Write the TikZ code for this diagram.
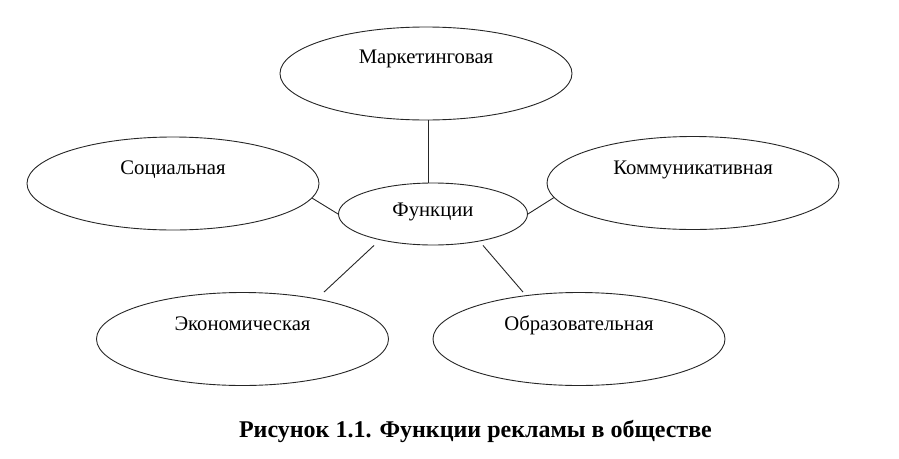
\documentclass[tikz,border=0pt]{standalone}
\usepackage{fontspec}
\setmainfont{Liberation Serif}
\usetikzlibrary{shapes.geometric,calc}
\begin{document}
\begin{tikzpicture}[x=1pt,y=-1pt,
  oval/.style={draw=black!85,line width=0.9pt,ellipse,inner sep=0pt,minimum width=292pt,minimum height=93pt},
  lbl/.style={font=\fontsize{20.7}{24}\selectfont,inner sep=0pt,anchor=base},
  link/.style={draw=black!85,line width=0.9pt}]
\useasboundingbox (0,0) rectangle (899,458);
\node[oval] (m) at (426,73.5) {};
\node[oval] (s) at (173,183.5) {};
\node[oval] (k) at (693,183) {};
\node[oval] (e) at (242.5,339) {};
\node[oval] (o) at (579,339) {};
\node[oval,minimum width=189pt,minimum height=62pt] (f) at (433,214) {};
\node[lbl] (mt) at ($(m.center)+(0,-10.2)$) {Маркетинговая};
\node[lbl] (st) at ($(s.center)+(0,-9.5)$) {Социальная};
\node[lbl] (kt) at ($(k.center)+(0,-9)$) {Коммуникативная};
\node[lbl] (et) at ($(e.center)+(0,-9)$) {Экономическая};
\node[lbl] (ot) at ($(o.center)+(0,-9)$) {Образовательная};
\node[lbl] (ft) at ($(f.center)+(0,2)$) {Функции};
\draw[link] ([xshift=2.5pt]m.south) -- ([xshift=-4.5pt]f.north);
\draw[link] (s.-6.7) -- (f.west);
\draw[link] (f.east) -- (k.186.5);
\draw[link] ($(f.south)+(-59,0)$) -- ($(e.north)+(81.5,0)$);
\draw[link] ($(f.south)+(50,0)$) -- ($(o.north)+(-56,0)$);
\node[font=\fontsize{24}{28}\selectfont\bfseries,inner sep=0pt,anchor=base] (cap) at (475.5,437) {Рисунок 1.1. Функции рекламы в обществе};
\end{tikzpicture}
\end{document}
